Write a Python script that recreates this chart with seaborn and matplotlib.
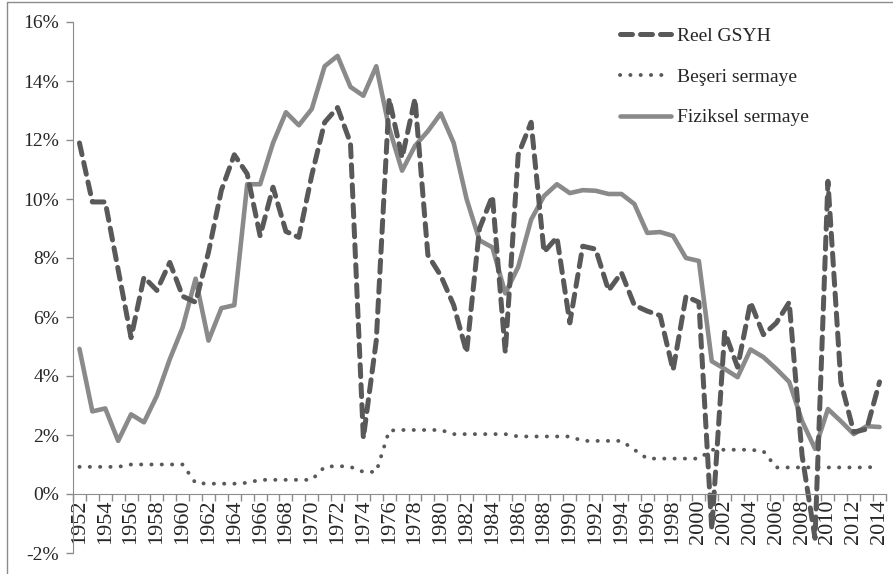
import numpy as np
import pandas as pd
import seaborn as sns
import matplotlib.pyplot as plt
from matplotlib.lines import Line2D

years = list(range(1952, 2015))

reel_gsyh = [11.9, 9.9, 9.9, 7.6, 5.3, 7.35, 6.9, 7.85, 6.7, 6.5,
             8.2, 10.3, 11.5, 10.85, 8.75, 10.4, 8.9, 8.7, 10.8, 12.6,
             13.1, 11.9, 1.9, 5.2, 13.4, 11.4, 13.4, 8.1, 7.4, 6.4,
             4.8, 9.0, 10.1, 4.8, 11.5, 12.6, 8.2, 8.7, 5.8, 8.4,
             8.3, 6.9, 7.5, 6.4, 6.2, 6.05, 4.2, 6.7, 6.5, -1.2,
             5.5, 4.3, 6.5, 5.4, 5.8, 6.5, 1.3, -1.5, 10.6, 3.8,
             2.1, 2.2, 3.8]

beseri = [0.92, 0.92, 0.92, 0.92, 1.0, 1.0, 1.0, 1.0, 1.0, 0.37,
          0.35, 0.35, 0.35, 0.38, 0.48, 0.48, 0.48, 0.48, 0.48, 0.92,
          0.95, 0.92, 0.75, 0.75, 2.15, 2.17, 2.17, 2.17, 2.17, 2.03,
          2.03, 2.03, 2.03, 2.03, 1.95, 1.95, 1.95, 1.95, 1.95, 1.8,
          1.8, 1.8, 1.8, 1.5, 1.2, 1.2, 1.2, 1.2, 1.2, 1.5,
          1.5, 1.5, 1.5, 1.45, 0.9, 0.9, 0.9, 0.9, 0.9, 0.9,
          0.9, 0.9, 0.93]

fiziksel = [4.92, 2.8, 2.9, 1.8, 2.7, 2.43, 3.33, 4.57, 5.65, 7.3,
            5.2, 6.3, 6.4, 10.5, 10.5, 11.9, 12.94, 12.5, 13.05, 14.5,
            14.85, 13.8, 13.5, 14.5, 12.4, 10.96, 11.8, 12.3, 12.9, 11.9,
            10.0, 8.6, 8.36, 6.8, 7.7, 9.3, 10.1, 10.5, 10.2, 10.3,
            10.28, 10.17, 10.17, 9.83, 8.85, 8.88, 8.75, 8.0, 7.9, 4.5,
            4.24, 3.96, 4.9, 4.64, 4.24, 3.8, 2.47, 1.53, 2.88, 2.47,
            2.03, 2.3, 2.27]

labels = ['Reel GSYH', 'Beşeri sermaye', 'Fiziksel sermaye']

df = pd.DataFrame({'yil': years, 'Reel GSYH': reel_gsyh,
                   'Beşeri sermaye': beseri, 'Fiziksel sermaye': fiziksel})

sns.set_style('white')
plt.rcParams['font.family'] = ['Liberation Serif', 'DejaVu Serif']

fig = plt.figure(figsize=(8.93, 5.74), dpi=100)
ax = fig.add_axes([73 / 893, 1 - 553 / 574, 813 / 893, 531 / 574])

dark = '#595959'
light = '#8a8a8a'
dash_ls = (0, (2.4, 1.6))
dot_ls = (0, (0.05, 2.6))

sns.lineplot(data=df, x='yil', y='Fiziksel sermaye', ax=ax, color=light,
             linewidth=3.3, label=labels[2])
sns.lineplot(data=df, x='yil', y='Beşeri sermaye', ax=ax, color=dark,
             linewidth=2.8, label=labels[1])
sns.lineplot(data=df, x='yil', y='Reel GSYH', ax=ax, color=dark,
             linewidth=3.6, label=labels[0])

lines = ax.get_lines()
lines[1].set_linestyle(dot_ls)
lines[1].set_dash_capstyle('round')
lines[2].set_linestyle(dash_ls)
lines[2].set_dash_capstyle('round')

ax.set_xlim(1951.5, 2014.5)
ax.set_ylim(-2, 16)
ax.set_xlabel('')
ax.set_ylabel('')

spine_c = '#8c8c8c'
for s in ['top', 'right']:
    ax.spines[s].set_visible(False)
ax.spines['left'].set_color(spine_c)
ax.spines['bottom'].set_color(spine_c)
ax.spines['bottom'].set_position(('data', 0))

yt = np.arange(-2, 17, 2)
ax.set_yticks(yt)
ax.set_yticklabels([f'{v}%' for v in yt])
ax.tick_params(axis='y', direction='out', length=5, color=spine_c, width=1,
               labelsize=14, pad=5, left=True)

ax.set_xticks(years[::2])
ax.set_xticklabels([str(y) for y in years[::2]], rotation=90)
ax.set_xticks(np.arange(1951.5, 2015, 1), minor=True)
ax.tick_params(axis='x', which='major', length=0, labelsize=16, pad=4)
ax.tick_params(axis='x', which='minor', direction='out', length=5,
               color=spine_c, width=1, bottom=True)

handles = [Line2D([], [], color=dark, linewidth=3.6, linestyle=dash_ls,
                  dash_capstyle='round'),
           Line2D([], [], color=dark, linewidth=2.8, linestyle=dot_ls,
                  dash_capstyle='round'),
           Line2D([], [], color=light, linewidth=3.3)]
ax.legend(handles, labels, loc='upper left', bbox_to_anchor=(620 / 893, 1 - 27 / 574),
          bbox_transform=fig.transFigure, frameon=False, fontsize=14,
          handlelength=2.6, handletextpad=0.35, labelspacing=1.2, borderpad=0,
          borderaxespad=0)

fig.add_artist(Line2D([7 / 893, 1], [1 - 1.5 / 574, 1 - 1.5 / 574], color=spine_c,
                      linewidth=1, transform=fig.transFigure))
fig.add_artist(Line2D([7 / 893, 7 / 893], [0, 1 - 1.5 / 574], color=spine_c,
                      linewidth=1, transform=fig.transFigure))

fig.savefig('out.png', dpi=100)
